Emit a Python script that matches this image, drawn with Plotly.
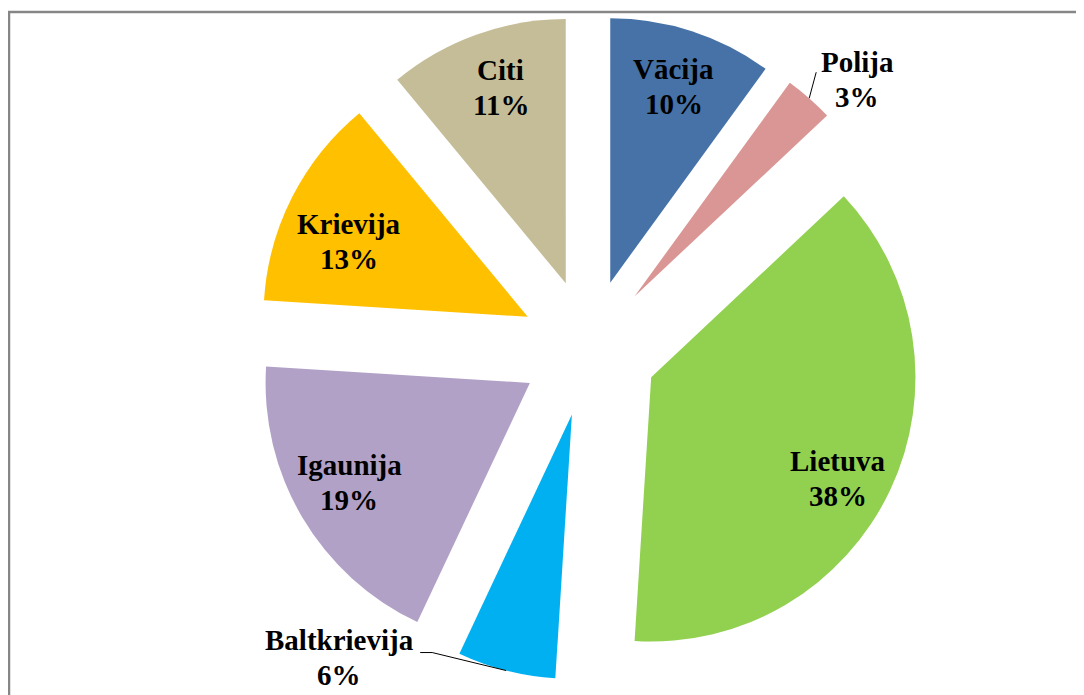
import math
import plotly.graph_objects as go

# ---- data ----
countries = ["Vācija", "Polija", "Lietuva", "Baltkrievija", "Igaunija", "Krievija", "Citi"]
shares = [10, 3, 38, 6, 19, 13, 11]
colors = ["#4672A7", "#D99694", "#92D050", "#00B0F0", "#B2A1C7", "#FFC000", "#C4BD97"]
outside_labels = ["Polija", "Baltkrievija"]

# label placement tweaks (screen px), styling only
label_nudge = {"Krievija": (5, 18), "Lietuva": (0, 13), "Igaunija": (-3, -5), "Citi": (5, -2)}

W, H = 1084, 695
OFF = 8  # page body margin: screen px = figure px + OFF
PULL = 0.26
# pie box (screen pixels)
BOX_X0, BOX_X1 = 256, 922
BOX_Y0, BOX_Y1 = 15, 681
CX = (BOX_X0 + BOX_X1) / 2
CY = (BOX_Y0 + BOX_Y1) / 2
R = min(BOX_X1 - BOX_X0, BOX_Y1 - BOX_Y0) / (2 + 2 * PULL)


def px2paper(px, py):
    return (px - OFF) / W, 1 - (py - OFF) / H


dx0, dy1 = px2paper(BOX_X0, BOX_Y0)
dx1, dy0 = px2paper(BOX_X1, BOX_Y1)

fig = go.Figure(go.Pie(
    labels=countries,
    values=shares,
    sort=False,
    direction="clockwise",
    rotation=0,
    pull=[PULL] * len(shares),
    marker=dict(colors=colors, line=dict(width=0)),
    textinfo="none",
    hoverinfo="label+percent",
    showlegend=False,
    domain=dict(x=[dx0, dx1], y=[dy0, dy1]),
))

total = sum(shares)
annotations = []
shapes = []
cum = 0
font = dict(family="Liberation Serif, Times New Roman, serif", size=29, color="black")
LINE = 35


def add_label(cx, cy, name, pct):
    for txt, yy in ((name, cy - LINE / 2), (pct, cy + LINE / 2)):
        x, y = px2paper(cx, yy)
        annotations.append(dict(x=x, y=y, xref="paper", yref="paper", text=f"<b>{txt}</b>",
                                showarrow=False, font=font, xanchor="center", yanchor="middle"))


for name, v in zip(countries, shares):
    mid = (cum + v / 2) / total * 2 * math.pi
    cum += v
    dx, dy = math.sin(mid), -math.cos(mid)
    pct = f"{round(v / total * 100)}%"
    if name not in outside_labels:
        dist = (PULL + 0.78) * R
        nx, ny = label_nudge.get(name, (0, 0))
        add_label(CX + dist * dx + nx, CY + dist * dy + ny, name, pct)
    else:
        tipx = CX + (PULL + 1) * R * dx
        tipy = CY + (PULL + 1) * R * dy
        if name == "Polija":
            pts = [(tipx, tipy), (tipx + 7, tipy - 26)]
            lab = (tipx + 48, tipy - 19)
        else:
            pts = [(tipx, tipy), (tipx - 74, tipy - 18), (tipx - 86, tipy - 18)]
            lab = (tipx - 167, tipy - 13)
        path = "M " + " L ".join(f"{px2paper(a, b)[0]},{px2paper(a, b)[1]}" for a, b in pts)
        shapes.append(dict(type="path", path=path, xref="paper", yref="paper",
                           line=dict(color="black", width=1)))
        add_label(lab[0], lab[1], name, pct)

# chart border (top and left visible)
bx0, by0 = px2paper(9, 12)
shapes.append(dict(type="rect", xref="paper", yref="paper", x0=bx0, y0=-0.05, x1=1.05, y1=by0,
                   line=dict(color="#868686", width=2.5), layer="below"))

fig.update_layout(
    width=W, height=H,
    margin=dict(l=0, r=0, t=0, b=0),
    paper_bgcolor="white",
    plot_bgcolor="white",
    annotations=annotations,
    shapes=shapes,
)

fig.write_html("out.html")
